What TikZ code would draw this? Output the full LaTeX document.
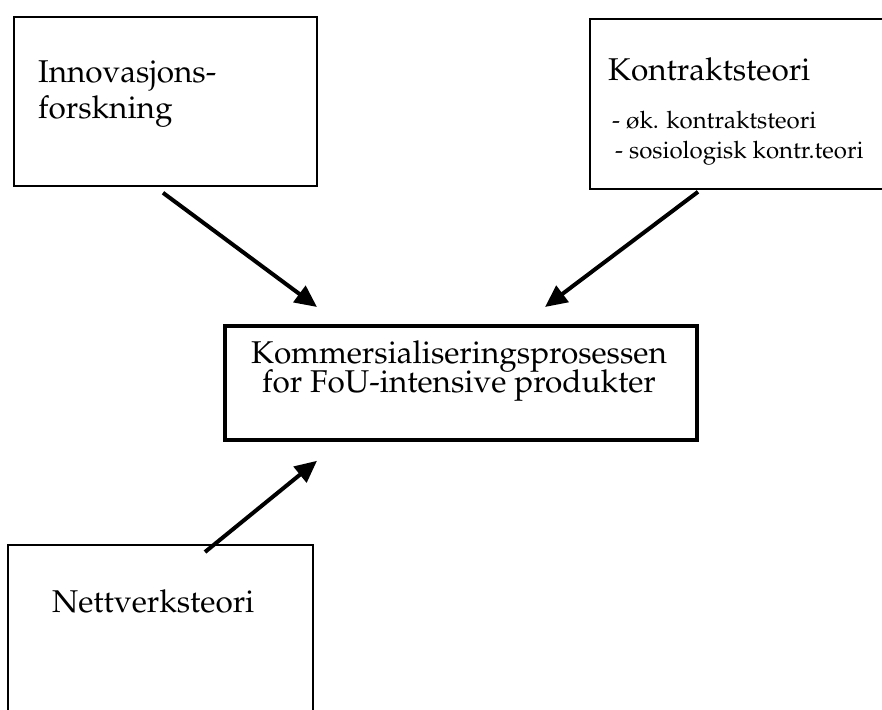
\documentclass[tikz,border=0pt]{standalone}
\usepackage[T1]{fontenc}
\usepackage{mathpazo}
\usetikzlibrary{arrows.meta,calc}
\begin{document}
\begin{tikzpicture}[x=1pt,y=-1pt,
  box/.style={draw, line width=1.8pt, rectangle, inner sep=0pt, anchor=north west},
  mainbox/.style={box, line width=3.8pt},
  bigtext/.style={font=\fontsize{31.5}{35}\selectfont, anchor=base west, inner sep=0pt},
  smalltext/.style={font=\fontsize{24}{27}\selectfont, anchor=base west, inner sep=0pt},
  link/.style={line width=4pt, -{Triangle[length=22pt,width=20pt]}}]
  \useasboundingbox (0,0) rectangle (882,709);

  % boxes
  \node[box, minimum width=303pt, minimum height=169pt] (innov) at (13,16) {};
  \node[box, minimum width=306pt, minimum height=170pt] (kontr) at (589,18) {};
  \node[mainbox, minimum width=472pt, minimum height=114pt] (komm) at (223,324) {};
  \node[box, minimum width=305pt, minimum height=180pt] (nett) at (7,544) {};

  % texts
  \node[bigtext] (t1) at (38,82) {Innovasjons-};
  \node[bigtext] (t2) at (38,118) {forskning};
  \node[bigtext] (t3) at (608,80) {Kontraktsteori};
  \node[smalltext] (t4) at (612,128) {- \o k. kontraktsteori};
  \node[smalltext] (t5) at (615,158) {- sosiologisk kontr.teori};
  \node[bigtext, anchor=base] (t6) at (459,363) {Kommersialiseringsprosessen};
  \node[bigtext, anchor=base] (t7) at (459,392) {for FoU-intensive produkter};
  \node[bigtext] (t8) at (52,612) {Nettverksteori};

  % connectors
  \coordinate (s1) at ($(innov.south west)+(150,6)$);
  \coordinate (e1) at ($(komm.north west)+(94,-17)$);
  \coordinate (s2) at ($(kontr.south west)+(109,2)$);
  \coordinate (e2) at ($(komm.north west)+(322,-17)$);
  \coordinate (s3) at ($(nett.north west)+(198,8)$);
  \coordinate (e3) at ($(komm.south west)+(94,19)$);
  \draw[link] (s1) -- (e1);
  \draw[link] (s2) -- (e2);
  \draw[link] (s3) -- (e3);
\end{tikzpicture}
\end{document}
